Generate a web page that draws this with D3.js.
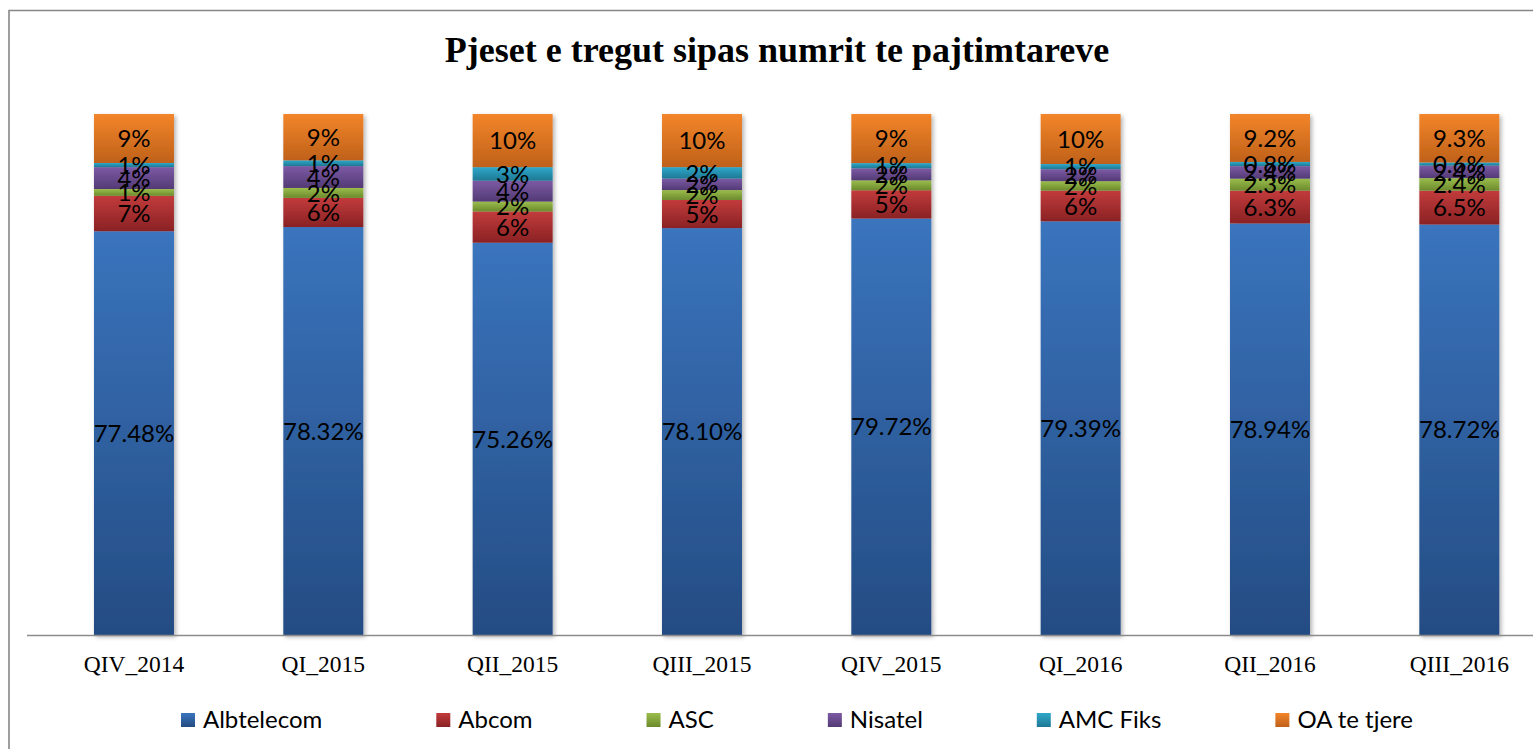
<!DOCTYPE html>
<html>
<head>
<meta charset="utf-8">
<script src="https://cdn.jsdelivr.net/npm/d3@7"></script>
<style>
  html, body { margin: 0; padding: 0; background: #fff; }
  svg { display: block; }
</style>
</head>
<body>
<svg id="chart" width="1533" height="749"></svg>
<script>
// ---- data ----
const title = "Pjeset e tregut sipas numrit te pajtimtareve";
const periods = ["QIV_2014", "QI_2015", "QII_2015", "QIII_2015", "QIV_2015", "QI_2016", "QII_2016", "QIII_2016"];
const seriesNames = ["Albtelecom", "Abcom", "ASC", "Nisatel", "AMC Fiks", "OA te tjere"];
const albtelecom = [77.48, 78.32, 75.26, 78.10, 79.72, 79.39, 78.94, 78.72];
const abcom      = [6.8, 5.6, 6.0, 5.4, 5.4, 5.9, 6.3, 6.5];
const asc        = [1.3, 1.9, 1.9, 1.9, 1.9, 1.8, 2.3, 2.4];
const nisatel    = [4.2, 4.2, 4.0, 2.2, 2.3, 2.3, 2.4, 2.4];
const amcFiks    = [0.8, 1.1, 2.6, 2.2, 1.0, 1.0, 0.8, 0.6];
const oaTeTjere  = [9.4, 8.9, 10.2, 10.2, 9.4, 9.6, 9.2, 9.3];
// decimals shown in the data labels for the smaller operators, per period
const labelDecimals = [0, 0, 0, 0, 0, 0, 1, 1];
const albtelecomDecimals = 2;

const seriesValues = [albtelecom, abcom, asc, nisatel, amcFiks, oaTeTjere];
const colors = [
  ["#3a74bd", "#244c83"],
  ["#c23b3c", "#8a2224"],
  ["#9abd4c", "#6c8a2c"],
  ["#7c5aa5", "#533a75"],
  ["#2fa8ca", "#1e7894"],
  ["#f3852a", "#bf611a"]
];

// ---- table for d3.stack ----
const table = periods.map((p, i) => {
  const row = { period: p, idx: i };
  seriesNames.forEach((s, k) => row[s] = seriesValues[k][i]);
  return row;
});

const svg = d3.select("#chart");
const W = 1533, H = 749;

// defs: gradients + shadow
const defs = svg.append("defs");
colors.forEach((c, k) => {
  const g = defs.append("linearGradient").attr("id", "grad" + k)
    .attr("x1", 0).attr("y1", 0).attr("x2", 0).attr("y2", 1);
  g.append("stop").attr("offset", "0%").attr("stop-color", c[0]);
  g.append("stop").attr("offset", "100%").attr("stop-color", c[1]);
});
const f = defs.append("filter").attr("id", "shadow")
  .attr("x", "-20%").attr("y", "-5%").attr("width", "140%").attr("height", "115%");
f.append("feDropShadow").attr("dx", 2).attr("dy", 2).attr("stdDeviation", 2)
  .attr("flood-color", "#000").attr("flood-opacity", 0.3);

// chart frame (extends past the visible area on right/bottom)
svg.append("path")
  .attr("d", `M9,${H + 5} L9,10.5 L${W + 5},10.5`)
  .attr("fill", "none").attr("stroke", "#878787").attr("stroke-width", 1.6);

// title
svg.append("text")
  .attr("x", 777).attr("y", 62)
  .attr("text-anchor", "middle")
  .attr("font-family", "'Liberation Serif', 'DejaVu Serif', serif")
  .attr("font-weight", "bold")
  .attr("font-size", 36)
  .attr("fill", "#000")
  .text(title);

// scales
const x = d3.scaleBand().domain(periods).range([39.3, 1554]).paddingInner(0.5775).paddingOuter(0.28875);
const y = d3.scaleLinear().domain([0, 1]).range([635, 114]);

const stack = d3.stack().keys(seriesNames).offset(d3.stackOffsetExpand);
const layers = stack(table);

// bars
const barsG = svg.append("g").attr("filter", "url(#shadow)");
layers.forEach((layer, k) => {
  barsG.selectAll(null).data(layer).enter().append("rect")
    .attr("x", d => x(d.data.period))
    .attr("width", x.bandwidth())
    .attr("y", d => y(d[1]))
    .attr("height", d => y(d[0]) - y(d[1]))
    .attr("fill", `url(#grad${k})`);
});

// axis line
svg.append("line")
  .attr("x1", 27).attr("x2", W).attr("y1", 635.5).attr("y2", 635.5)
  .attr("stroke", "#8c8c8c").attr("stroke-width", 1.6);

// x axis tick labels
const xAxis = d3.axisBottom(x).tickSize(0).tickPadding(0);
const xg = svg.append("g").attr("transform", "translate(0,635)").call(xAxis);
xg.select(".domain").remove();
xg.selectAll("text")
  .attr("y", 36.5).attr("dy", 0)
  .attr("font-family", "'Liberation Serif', 'DejaVu Serif', serif")
  .attr("font-size", 23.5)
  .attr("fill", "#000");

// data labels
const labelsG = svg.append("g");
layers.forEach((layer, k) => {
  labelsG.selectAll(null).data(layer).enter().append("text")
    .attr("x", d => x(d.data.period) + x.bandwidth() / 2)
    .attr("y", d => (y(d[0]) + y(d[1])) / 2)
    .attr("dy", "0.36em")
    .attr("text-anchor", "middle")
    .attr("font-family", "Lato, 'Open Sans', sans-serif")
    .attr("font-size", 24)
    .attr("fill", "#000")
    .text(d => {
      const v = seriesValues[k][d.data.idx];
      const dec = k === 0 ? albtelecomDecimals : labelDecimals[d.data.idx];
      return v.toFixed(dec) + "%";
    });
});

// legend
const legend = svg.append("g");
let lx = 181;
seriesNames.forEach((name, k) => {
  const item = legend.append("g");
  item.append("rect").attr("x", lx).attr("y", 713).attr("width", 14).attr("height", 14)
    .attr("fill", `url(#grad${k})`);
  const t = item.append("text").attr("x", lx + 22).attr("y", 727.5)
    .attr("font-family", "Lato, 'Open Sans', sans-serif")
    .attr("font-size", 24)
    .attr("fill", "#000")
    .text(name);
  lx = lx + 22 + t.node().getComputedTextLength() + 114;
});
</script>
</body>
</html>
